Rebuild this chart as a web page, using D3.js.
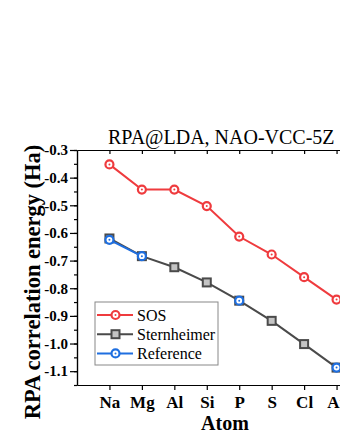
<!DOCTYPE html>
<html>
<head>
<meta charset="utf-8">
<script src="https://cdn.jsdelivr.net/npm/d3@7"></script>
<style>
  body { margin: 0; background: #fff; }
  svg text { font-family: "Liberation Serif", "DejaVu Serif", serif; fill: #000; }
  .axis text { font-weight: bold; font-size: 15px; }
  .axis path, .axis line { stroke: #000; stroke-width: 1.2; }
</style>
</head>
<body>
<div class="chart"></div>
<script>
// data
const atoms = ["Na", "Mg", "Al", "Si", "P", "S", "Cl", "Ar"];
const sos = [-0.352, -0.443, -0.443, -0.503, -0.613, -0.678, -0.760, -0.841];
const sternheimer = [-0.620, -0.684, -0.724, -0.779, -0.845, -0.918, -1.002, -1.087];
const reference = [-0.625, -0.684, null, null, -0.845, null, null, -1.087];
const yTicks = [-0.3, -0.4, -0.5, -0.6, -0.7, -0.8, -0.9, -1.0, -1.1];

const series = [
  { name: "SOS", values: sos, color: "#ef3b3e", shape: "circle" },
  { name: "Sternheimer", values: sternheimer, color: "#4a4a4a", shape: "square" },
  { name: "Reference", values: reference, color: "#1f6fe0", shape: "circle" }
];

const width = 340, height = 440;
const margin = {top: 150, right: -29, bottom: 55, left: 77};
const w = width - margin.left - margin.right;
const h = height - margin.top - margin.bottom;

const svg = d3.select(".chart").append("svg")
    .attr("width", width)
    .attr("height", height)
    .style("overflow", "hidden");

const g = svg.append("g")
    .attr("transform", "translate(" + margin.left + "," + margin.top + ")");

// scales - categories sit at index 1..8 of a 0..9 axis
const xScale = d3.scaleLinear().domain([0, atoms.length + 1]).range([0, w]);
const yScale = d3.scaleLinear().domain([-1.15, -0.3]).range([h, 0]);

// axes
const xAxis = d3.axisBottom(xScale)
    .tickValues(d3.range(1, atoms.length + 1))
    .tickFormat(i => atoms[i - 1])
    .tickSize(5).tickSizeOuter(0).tickPadding(4);
const gx = g.append("g").attr("class", "axis")
    .attr("transform", `translate(0,${h})`).call(xAxis);
gx.selectAll("text").attr("dy", "0.85em").style("font-size", "17px");

const xTop = d3.axisBottom(xScale)
    .tickValues(d3.range(1, atoms.length + 1))
    .tickFormat("").tickSize(4).tickSizeOuter(0);
g.append("g").attr("class", "axis").call(xTop);

const yMinor = d3.axisLeft(yScale)
    .tickValues(d3.range(-1.15, -0.29, 0.05).map(v => +v.toFixed(2)))
    .tickFormat("").tickSize(3).tickSizeOuter(0);
g.append("g").attr("class", "axis").call(yMinor);

const yAxis = d3.axisLeft(yScale)
    .tickValues(yTicks)
    .tickFormat(d3.format(".1f"))
    .tickSize(7).tickSizeOuter(0).tickPadding(2);
const gy = g.append("g").attr("class", "axis").call(yAxis);
gy.selectAll("text").text(d => d3.format(".1f")(d).replace("−", "-"));

// lines
const line = d3.line()
    .defined(d => d != null)
    .x((d, i) => xScale(i + 1))
    .y(d => yScale(d));

series.forEach(s => {
  g.append("path")
      .datum(s.values)
      .attr("fill", "none")
      .attr("stroke", s.color)
      .attr("stroke-width", 2)
      .attr("d", line);
  const pts = s.values.map((v, i) => ({v, i})).filter(d => d.v != null);
  pts.forEach(p => drawMarker(g, s, xScale(p.i + 1), yScale(p.v)));
});

function drawMarker(parent, s, x, y) {
  if (s.shape === "square") {
    parent.append("rect")
        .attr("x", x - 4).attr("y", y - 4)
        .attr("width", 8).attr("height", 8)
        .attr("fill", "#c4c4c4").attr("stroke", s.color).attr("stroke-width", 2);
  } else {
    parent.append("circle")
        .attr("cx", x).attr("cy", y).attr("r", 4)
        .attr("fill", "#fff").attr("stroke", s.color).attr("stroke-width", 2.2);
    parent.append("circle")
        .attr("cx", x).attr("cy", y).attr("r", 1)
        .attr("fill", s.color);
  }
}

// title
svg.append("text")
    .attr("x", 108).attr("y", 144)
    .style("font-size", "20px")
    .text("RPA@LDA, NAO-VCC-5Z");

// axis titles
svg.append("text")
    .attr("transform", "translate(40,282) rotate(-90)")
    .attr("text-anchor", "middle")
    .style("font-size", "22.5px").style("font-weight", "bold")
    .text("RPA correlation energy (Ha)");

svg.append("text")
    .attr("x", 225).attr("y", 430)
    .attr("text-anchor", "middle")
    .style("font-size", "20px").style("font-weight", "bold")
    .text("Atom");

// legend
const legend = svg.append("g").attr("transform", "translate(95,302)");
legend.append("rect")
    .attr("width", 123).attr("height", 63)
    .attr("fill", "#fff").attr("stroke", "#888").attr("stroke-width", 1);
series.forEach((s, i) => {
  const y = 13 + i * 19.2;
  legend.append("line")
      .attr("x1", 2).attr("x2", 38).attr("y1", y).attr("y2", y)
      .attr("stroke", s.color).attr("stroke-width", 2);
  drawMarker(legend, s, 20.5, y);
  legend.append("text")
      .attr("x", 42).attr("y", y + 5.5)
      .style("font-size", "16px")
      .text(s.name);
});
</script>
</body>
</html>
